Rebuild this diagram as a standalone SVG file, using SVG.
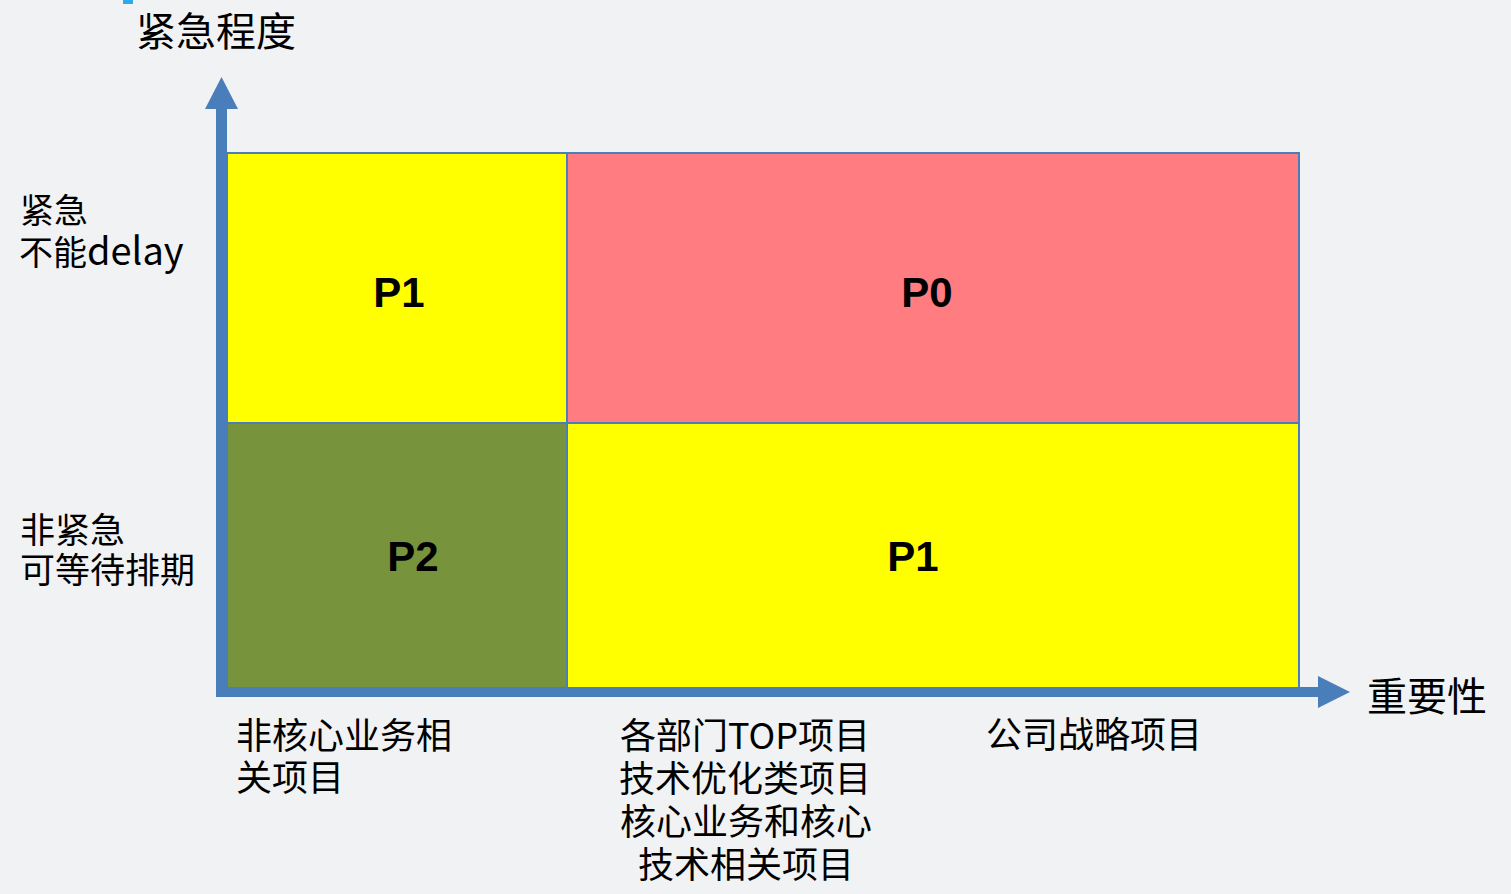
<svg xmlns="http://www.w3.org/2000/svg" width="1511" height="894" viewBox="0 0 1511 894">
<style>
.cell{stroke:#4a7ebb;stroke-width:2}
.p{font-family:"Liberation Sans",Arial,sans-serif;font-weight:bold;font-size:42px;fill:#000;text-anchor:middle}
.cn{font-family:"Noto Sans CJK SC","Noto Sans",sans-serif;fill:#000}
.axis{fill:#4a7ebb}
</style>
<rect width="1511" height="894" fill="#f1f2f3"/>
<rect x="123" y="0" width="10" height="4" fill="#2fa8ec"/>
<g id="cells">
<g id="cell-p1-top"><rect class="cell" x="227" y="153" width="340" height="270" fill="#ffff00"/><text class="p" x="399" y="307">P1</text></g>
<g id="cell-p0"><rect class="cell" x="567" y="153" width="732" height="270" fill="#ff7c80"/><text class="p" x="927" y="307">P0</text></g>
<g id="cell-p2"><rect class="cell" x="227" y="423" width="340" height="265" fill="#77933c"/><text class="p" x="413" y="571">P2</text></g>
<g id="cell-p1-bottom"><rect class="cell" x="567" y="423" width="732" height="265" fill="#ffff00"/><text class="p" x="913" y="571">P1</text></g>
</g>
<g id="connectors">
<rect class="axis" x="216" y="108" width="11" height="589"/>
<polygon class="axis" points="205,109 238,109 221.5,77"/>
<rect class="axis" x="216" y="687" width="1103" height="10"/>
<polygon class="axis" points="1318,676 1318,708 1350,692"/>
</g>
<g id="label-y-title"><text class="cn" x="136" y="46" font-size="40">紧急程度</text></g>
<g id="label-x-title"><text class="cn" x="1367" y="711" font-size="40">重要性</text></g>
<g id="label-urgent"><text class="cn" x="20" y="223" font-size="34">紧急</text><text class="cn" x="19" y="265" font-size="34">不能<tspan font-size="38">delay</tspan></text></g>
<g id="label-nonurgent"><text class="cn" x="20" y="543" font-size="35">非紧急</text><text class="cn" x="20" y="583" font-size="35">可等待排期</text></g>
<g id="label-noncore"><text class="cn" x="236" y="749" font-size="36">非核心业务相</text><text class="cn" x="236" y="791" font-size="36">关项目</text></g>
<g id="label-top" text-anchor="middle"><text class="cn" x="745" y="749" font-size="36">各部门TOP项目</text><text class="cn" x="745" y="792" font-size="36">技术优化类项目</text><text class="cn" x="746" y="835" font-size="36">核心业务和核心</text><text class="cn" x="746" y="878" font-size="36">技术相关项目</text></g>
<g id="label-strategy"><text class="cn" x="986" y="748" font-size="36">公司战略项目</text></g>
</svg>
